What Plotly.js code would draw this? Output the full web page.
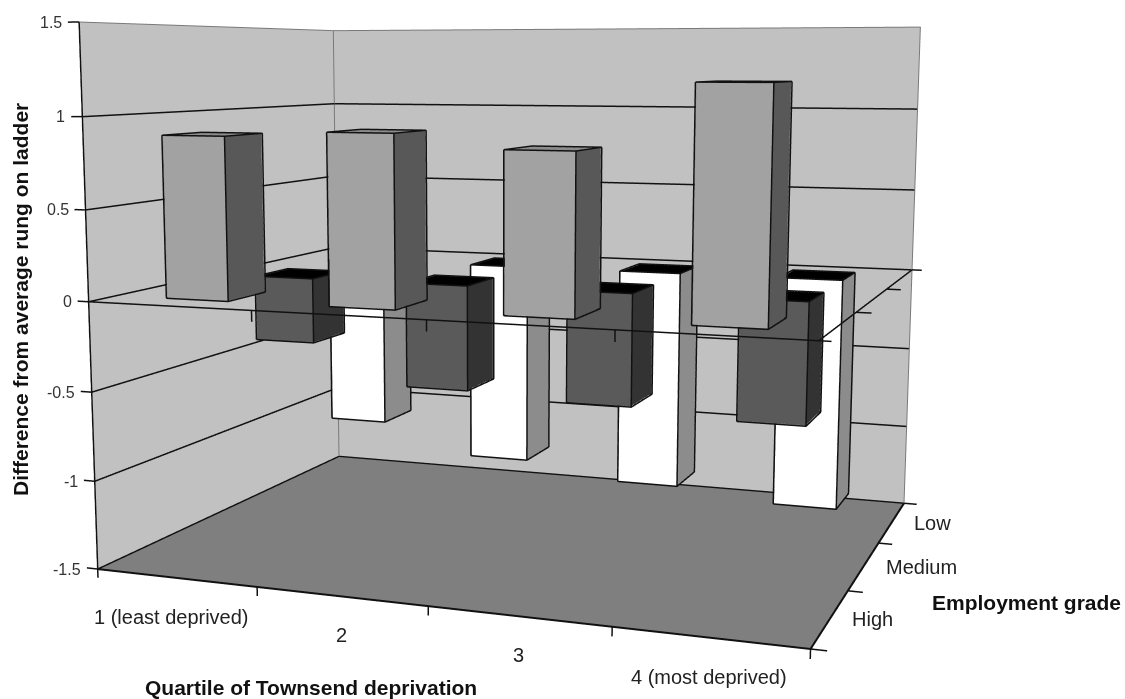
<!DOCTYPE html>
<html><head><meta charset="utf-8">
<script src="https://cdn.plot.ly/plotly-3.0.1.min.js"></script>
<style>html,body{margin:0;padding:0;background:#fff;overflow:hidden;width:1125px;height:699px}
#wrap{position:relative;width:1125px;height:699px;overflow:hidden}
#chart{position:absolute;left:-203px;top:-419px;width:1400px;height:1514px}</style>
</head><body><div id="wrap"><div id="chart"></div></div>
<script>
const quartiles = ['1 (least deprived)', '2', '3', '4 (most deprived)'];
const grades = ['High', 'Medium', 'Low'];
const highValues = [0.89, 0.92, 0.845, 1.19];
const mediumValues = [-0.38, -0.61, -0.64, -0.68];
const lowValues = [-1.06, -1.24, -1.33, -1.39];
const zTicks = [-1.5, -1, -0.5, 0, 0.5, 1, 1.5];

const FIG_W = 1400, FIG_H = 1514, OFF_X = 203, OFF_Y = 419;
const seriesStyle = [
  {vals: highValues, front: '#a2a2a2', side: '#585858', top: '#8c8c8c'},
  {vals: mediumValues, front: '#5a5a5a', side: '#333333', top: '#000000'},
  {vals: lowValues, front: '#ffffff', side: '#8c8c8c', top: '#000000'}
];
const barHalf = 0.19, depthHalf = 0.205;
const xMin=-0.5,xMax=3.5,yMin=-0.5,yMax=2.5,zMin=-1.5,zMax=1.5;
const xPad=0.3,yPad=0.3,zPad=0.3;
const traces = [];
const INK = '#111111';
function lines(segs,w,color){
  const xs=[],ys=[],zs=[];
  segs.forEach(s=>{s.forEach(p=>{xs.push(p[0]);ys.push(p[1]);zs.push(p[2]);});xs.push(null);ys.push(null);zs.push(null);});
  traces.push({type:'scatter3d',mode:'lines',x:xs,y:ys,z:zs,connectgaps:false,line:{color:color||INK,width:w||2},showlegend:false,hoverinfo:'skip'});
}
function quad(a,b,c,d,color){
  traces.push({type:'mesh3d',x:[a[0],b[0],c[0],d[0]],y:[a[1],b[1],c[1],d[1]],z:[a[2],b[2],c[2],d[2]],i:[0,0],j:[1,2],k:[2,3],
    facecolor:[color,color],flatshading:true,lighting:{ambient:1,diffuse:0,specular:0,roughness:1,fresnel:0},showscale:false,hoverinfo:'skip'});
}
const eps=0.004;
quad([xMin-eps,yMin,zMin],[xMin-eps,yMax,zMin],[xMin-eps,yMax,zMax],[xMin-eps,yMin,zMax],'#c1c1c1');
quad([xMin,yMax+eps,zMin],[xMax,yMax+eps,zMin],[xMax,yMax+eps,zMax],[xMin,yMax+eps,zMax],'#c1c1c1');
quad([xMin,yMin,zMin-eps],[xMax,yMin,zMin-eps],[xMax,yMax,zMin-eps],[xMin,yMax,zMin-eps],'#7f7f7f');

seriesStyle.forEach((s, gi) => {
  s.vals.forEach((v, qi) => {
    const x0 = qi - barHalf, x1 = qi + barHalf, y0 = gi - depthHalf, y1 = gi + depthHalf;
    const z0 = Math.min(0, v), z1 = Math.max(0, v);
    const X = [x0,x1,x1,x0,x0,x1,x1,x0], Y = [y0,y0,y1,y1,y0,y0,y1,y1], Z = [z0,z0,z0,z0,z1,z1,z1,z1];
    const I = [0,0,1,1,4,4,0,0,3,3,2,2], J = [1,5,2,6,5,6,3,7,2,6,3,7], K = [5,4,6,5,6,7,7,4,6,7,7,6];
    traces.push({type:'mesh3d', x:X, y:Y, z:Z, i:I, j:J, k:K,
      facecolor:[s.front,s.front,s.side,s.side,s.top,s.top,s.side,s.side,s.front,s.front,s.side,s.side],
      flatshading:true, lighting:{ambient:1,diffuse:0,specular:0,roughness:1,fresnel:0}, showscale:false, hoverinfo:'skip'});
    const g=0.004;
    const a=x0-g,b=x1+g,c=y0-g,d=y1+g,e=z0-g,f=z1+g;
    lines([
      [[a,c,e],[b,c,e],[b,d,e],[a,d,e],[a,c,e]],
      [[a,c,f],[b,c,f],[b,d,f],[a,d,f],[a,c,f]],
      [[a,c,e],[a,c,f]],[[b,c,e],[b,c,f]],[[b,d,e],[b,d,f]],[[a,d,e],[a,d,f]]
    ],3);
  });
});
const grid=[], stubs=[];
zTicks.forEach(t=>{
  if(t!==zMin && t!==zMax) grid.push([[xMin,yMin,t],[xMin,yMax,t],[xMax,yMax,t]]);
  stubs.push([[xMin-0.07,yMin,t],[xMin,yMin,t]]);
});
lines(grid,3);
lines([[[xMin,yMin,zMax],[xMin,yMax,zMax],[xMax,yMax,zMax],[xMax,yMax,zMin]],[[xMin,yMax,zMin],[xMin,yMax,zMax]]],2,'#7a7a7a');
lines([[[xMin,yMin,zMax],[xMin,yMin,zMin]],[[xMin,yMax,zMin],[xMax,yMax,zMin]],[[xMin,yMin,zMin],[xMin,yMax,zMin]]],3);
lines([[[xMin,yMin,zMin],[xMax,yMin,zMin],[xMax,yMax,zMin]]],4);
const planeSegs=[[[xMin,yMin,0],[xMax+0.06,yMin,0]],[[xMax,yMin,0],[xMax,yMax,0],[xMax+0.06,yMax,0]],[[xMin,yMin,0],[xMin,yMax,0]]];
[0.5,1.5,2.5].forEach(x=>{planeSegs.push([[x,yMin,0],[x,yMin,-0.06]]);});
[0.5,1.5].forEach(y=>{planeSegs.push([[xMax,y,0],[xMax+0.08,y,0]]);});
lines(planeSegs,3);
const floorTicks=[];
[-0.5,0.5,1.5,2.5,3.5].forEach(x=>floorTicks.push([[x,yMin,zMin],[x,yMin,zMin-0.05]]));
[-0.5,0.5,1.5,2.5].forEach(y=>floorTicks.push([[xMax,y,zMin],[xMax+0.08,y,zMin]]));
lines(floorTicks,3);
lines(stubs,3);

function hiddenAxis(lo,hi){return {range:[lo,hi],autorange:false,visible:false,showgrid:false,zeroline:false,showticklabels:false,ticks:'',showline:false,showbackground:false,showspikes:false};}
const LBL='Liberation Sans';
function px(x,y){return {xref:'paper',yref:'paper',xanchor:'center',yanchor:'middle',x:(x+OFF_X)/FIG_W,y:1-(y+OFF_Y)/FIG_H};}
const TITLE_FONT={family:LBL,size:21,color:'#111'};
const layout = {
  width:FIG_W,height:FIG_H,margin:{l:0,r:0,t:0,b:0},paper_bgcolor:'#fff',showlegend:false,
  scene:{
    domain:{x:[0,1],y:[0,1]},
    aspectmode:'manual',
    aspectratio:{x:1.334*(xMax-xMin+2*xPad)/(xMax-xMin),y:1.045*(yMax-yMin+2*yPad)/(yMax-yMin),z:1.005*(zMax-zMin+2*zPad)/(zMax-zMin)},
    camera:{eye:{x:1.1873,y:-3.3553,z:0.436},center:{x:-0.2004,y:0.3546,z:-0.167},up:{x:0,y:0,z:1},projection:{type:'perspective'}},
    xaxis:hiddenAxis(xMin-xPad,xMax+xPad),yaxis:hiddenAxis(yMin-yPad,yMax+yPad),zaxis:hiddenAxis(zMin-zPad,zMax+zPad),
    annotations:[]
  },
  annotations:[
    Object.assign(px(20,300),{text:'<b>Difference from average rung on ladder</b>',textangle:-90,showarrow:false,font:TITLE_FONT}),
    Object.assign(px(311,687),{text:'<b>Quartile of Townsend deprivation</b>',showarrow:false,font:TITLE_FONT}),
    Object.assign(px(1026,603),{text:'<b>Employment grade</b>',showarrow:false,font:TITLE_FONT})
  ]
};
zTicks.forEach(t=>layout.scene.annotations.push({x:xMin,y:yMin,z:t,text:String(t),showarrow:false,xanchor:'right',xshift:-15,font:{family:LBL,size:16,color:'#333'}}));
quartiles.forEach((q,i)=>layout.scene.annotations.push({x:i,y:yMin,z:zMin,text:q,showarrow:false,xshift:i===0?-5:0,yshift:-39,font:{family:LBL,size:20,color:'#222'}}));
grades.forEach((g,i)=>layout.scene.annotations.push({x:xMax,y:i,z:zMin,text:g,showarrow:false,xanchor:'left',xshift:20,yshift:-1,font:{family:LBL,size:20,color:'#222'}}));
Plotly.newPlot('chart',traces,layout,{displayModeBar:false});
</script></body></html>
